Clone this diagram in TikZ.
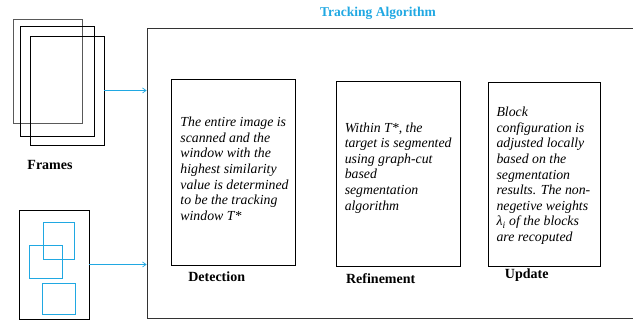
\documentclass[tikz,border=0pt]{standalone}
\usepackage{fontspec}
\setmainfont{Liberation Serif}
\usetikzlibrary{calc,arrows.meta}

\definecolor{trackblue}{RGB}{32,168,226}

\tikzset{
  frm/.style={draw,rectangle,inner sep=0pt,line width=0.8pt},
  win/.style={draw=trackblue,rectangle,inner sep=0pt,line width=0.8pt},
  stage/.style={draw,rectangle,inner sep=0pt,line width=0.8pt},
  stagetext/.style={anchor=north west,inner sep=0pt,align=left,
    font=\fontsize{13.8}{15.6}\selectfont\itshape},
  caption/.style={font=\fontsize{14}{16}\selectfont\bfseries},
  feed/.style={-{Straight Barb[length=3.5pt,width=5pt]},draw=trackblue,line width=0.7pt}
}

\begin{document}
\begin{tikzpicture}[x=1pt,y=-1pt]
\clip (0,0) rectangle (633,320);

% input frames
\draw node [frm,draw=black!65,minimum width=69pt,minimum height=104pt](fr1) at (47.5,71){};
\draw node [frm,minimum width=74pt,minimum height=110pt](fr2) at (57,81){};
\draw node [frm,minimum width=74pt,minimum height=109pt](fr3) at (67,90.5){};
\draw node [caption](frames) at (50,165){Frames};

% frame with candidate windows
\draw node [frm,minimum width=70pt,minimum height=109pt](seq) at (54,264.5){};
\draw node [win,minimum width=31pt,minimum height=37pt](w1) at (58.5,240.5){};
\draw node [win,minimum width=33pt,minimum height=33pt](w2) at (45.5,261.5){};
\draw node [win,minimum width=33pt,minimum height=31pt](w3) at (58.5,299){};

% tracking algorithm
\draw node [stage,draw=black!80,minimum width=493pt,minimum height=290pt](algo) at (393.5,173){};
\draw node [caption,text=trackblue,font=\fontsize{13.5}{16}\selectfont\bfseries](title) at (378,13.5){Tracking Algorithm};

\draw[feed] (fr3.east) -- (fr3.east -| algo.west);
\draw[feed] (seq.east) -- (seq.east -| algo.west);

% stages
\draw node [stage,minimum width=123.3pt,minimum height=185.7pt](det) at (233.3,172.2){};
\draw node [stagetext] at ($ (det.north west)+(9,38) $){The entire image is\\scanned and the\\window with the\\highest similarity\\value is determined\\to be the tracking\\window T*};
\draw node [caption](detlbl) at ($ (det.south)+(-16.6,11) $){Detection};

\draw node [stage,minimum width=123.3pt,minimum height=184.3pt](ref) at (398.3,173.8){};
\draw node [stagetext] at ($ (ref.north west)+(8.3,41) $){Within T*, the\\target is segmented\\using graph-cut\\based\\segmentation\\algorithm};
\draw node [caption](reflbl) at ($ (ref.south)+(-17.6,12) $){Refinement};

\draw node [stage,minimum width=112.3pt,minimum height=183.7pt](upd) at (544.5,174.2){};
\draw node [stagetext] at ($ (upd.north west)+(8.4,25) $){Block\\configuration is\\adjusted locally\\based on the\\segmentation\\results. The non-\\negetive weights\\λ\textsubscript{i} of the blocks\\are recoputed};
\draw node [caption](updlbl) at ($ (upd.south)+(-17.8,9) $){Update};

\end{tikzpicture}
\end{document}
